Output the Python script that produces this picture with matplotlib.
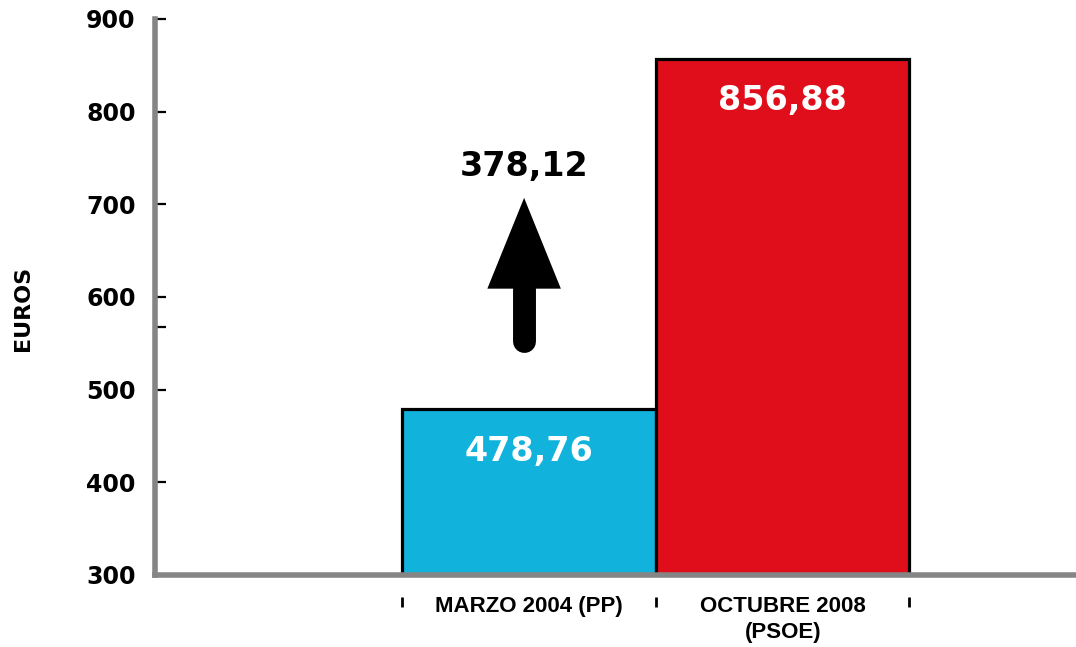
import matplotlib.pyplot as plt
import matplotlib.transforms as mtransforms

categorias = ['MARZO 2004 (PP)', 'OCTUBRE 2008\n(PSOE)']
valores = [478.76, 856.88]
colores = ['#11B2DB', '#E00E1A']
yticks = [300, 400, 500, 600, 700, 800, 900]

def fmt(v):
    return f'{v:.2f}'.replace('.', ',')

fig = plt.figure(figsize=(10.76, 6.47), dpi=100)
ax = fig.add_axes([155 / 1076, 1 - 575 / 647, 1 - 155 / 1076, (575 - 19) / 647])

x = list(range(len(valores)))
ax.bar(x, valores, width=1.0, color=colores, edgecolor='black', linewidth=2.3,
       bottom=0, zorder=1)

ax.set_ylim(300, 900)
ax.set_xlim(-1.476, 2.157)

# spines
for s in ['top', 'right']:
    ax.spines[s].set_visible(False)
for s in ['left', 'bottom']:
    ax.spines[s].set_color('#858585')
    ax.spines[s].set_linewidth(4)
    ax.spines[s].set_zorder(3)

ax.set_yticks(yticks)
ax.set_yticks([568], minor=True)
ax.tick_params(axis='y', which='both', direction='in', length=8, width=1.6,
               color='black', pad=14)
for lab in ax.get_yticklabels():
    lab.set_fontsize(17)
    lab.set_fontweight('bold')
    lab.set_family('DejaVu Sans')

ax.set_xticks(x)
ax.set_xticklabels(categorias, fontsize=16, fontweight='bold',
                   family='Liberation Sans', linespacing=1.3)
ax.tick_params(axis='x', length=0, pad=15)

# marcas en los bordes de las barras
trans = mtransforms.blended_transform_factory(ax.transData, ax.transAxes)
bordes = [i - 0.5 for i in x] + [x[-1] + 0.5]
ax.vlines(bordes, -0.058, -0.040, colors='black', lw=2.0, transform=trans,
          clip_on=False)

ax.set_ylabel('EUROS', fontsize=16, fontweight='bold')
ax.yaxis.set_label_coords(-0.133, 0.48)

# etiquetas de valor
for xi, v in zip(x, valores):
    ax.annotate(fmt(v), xy=(xi, v), xytext=(0, -30), textcoords='offset points',
                ha='center', va='center', color='white', fontsize=24,
                fontweight='bold', zorder=4)

# diferencia + flecha
diff = valores[1] - valores[0]
ax.text(-0.02, 741, fmt(diff), ha='center', va='center', fontsize=24,
        fontweight='bold', color='black')
ax.plot([-0.02, -0.02], [553, 615], color='black', lw=16.5,
        solid_capstyle='round', zorder=3)
ax.fill([-0.165, 0.125, -0.02], [609, 609, 707], color='black', lw=0, zorder=3)

fig.savefig('out.png', dpi=100)
